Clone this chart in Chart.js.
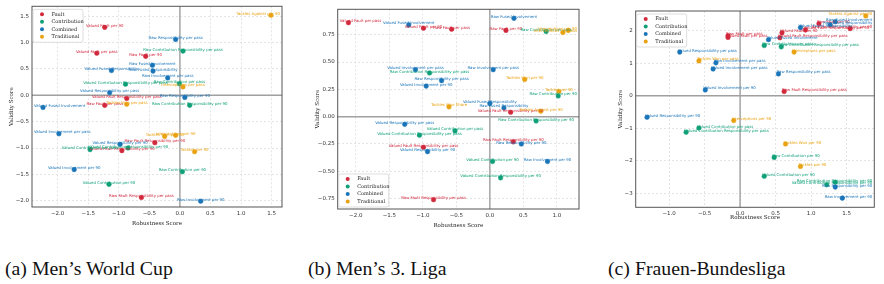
<!DOCTYPE html>
<html>
<head>
<meta charset="utf-8">
<script src="https://cdn.jsdelivr.net/npm/chart.js@4.4.0/dist/chart.umd.min.js"></script>
<style>
  body { margin: 0; background: #fff; width: 884px; height: 284px; position: relative; overflow: hidden; }
  .panel { position: absolute; top: 0; }
  .cap { position: absolute; top: 257px; font-family: "Liberation Serif", serif; font-size: 19.8px; color: #111; white-space: nowrap; }
</style>
</head>
<body>
<div class="panel" style="left:0"><canvas id="wcChart" width="290" height="232"></canvas></div>
<div class="panel" style="left:296px"><canvas id="ligaChart" width="290" height="232"></canvas></div>
<div class="panel" style="left:592px"><canvas id="fbChart" width="292" height="232"></canvas></div>
<div class="cap" style="left:5px">(a) Men’s World Cup</div>
<div class="cap" style="left:308px">(b) Men’s 3. Liga</div>
<div class="cap" style="left:608px">(c) Frauen-Bundesliga</div>

<script>
const groupNames = ['Fault', 'Contribution', 'Combined', 'Traditional'];
const groupColors = ['#d1283c', '#10a078', '#1a75b8', '#e9a212'];

// (a) Men's World Cup
const wcNames = [
    'Valued Fault per 90', 'Valued Fault per pass', 'Raw Fault per 90', 'Valued Fault Responsibility per pass',
    'Raw Fault per pass', 'Raw Fault Responsibility per 90', 'Valued Fault Responsibility per 90', 'Raw Fault Responsibility per pass',
    'Raw Contribution Responsibility per pass', 'Valued Contribution Responsibility per pass', 'Raw Contribution per pass', 'Raw Contribution Responsibility per 90',
    'Valued Contribution per pass', 'Valued Contribution Responsibility per 90', 'Raw Contribution per 90', 'Valued Contribution per 90',
    'Raw Responsibility per pass', 'Raw Fused Involvement', 'Valued Fused Responsibility', 'Raw Fused Responsibility',
    'Raw Involvement per pass', 'Valued Responsibility per pass', 'Raw Responsibility per 90', 'Valued Fused Involvement',
    'Valued Involvement per pass', 'Valued Responsibility per 90', 'Valued Involvement per 90', 'Raw Involvement per 90',
    'Tackles Against per 90', 'Interceptions per pass', 'Tackles Won per pass', 'Tackles Won per 90', 'Interceptions per 90', 'Tackles per 90'
];
const wcGroup = [0,0,0,0,0,0,0,0, 1,1,1,1,1,1,1,1, 2,2,2,2,2,2,2,2,2,2,2,2, 3,3,3,3,3,3];
const wcRobustness = [
    -1.23, -1.36, -0.56, -0.87, -1.23, -0.41, -0.95, -0.63,
    0.05, -0.89, -0.01, 0.16, -1.47, -0.85, 0.04, -1.16,
    -0.07, -0.45, -1.12, -0.44, -0.20, -1.15, 0.08, -2.24, -1.98, -0.98, -1.73, 0.34,
    1.49, 0.05, -0.87, -0.25, -0.07, 0.24
];
const wcValidity = [
    1.29, 0.80, 0.74, -0.06, -0.19, -0.90, -1.05, -1.94,
    0.84, 0.21, 0.22, -0.19, -1.03, -1.00, -1.45, -1.69,
    1.06, 0.57, 0.47, 0.46, 0.33, 0.05, -0.04, -0.23, -0.73, -0.93, -1.41, -2.01,
    1.52, 0.16, -0.17, -0.78, -0.76, -1.07
];

// (b) Men's 3. Liga
const ligaNames = [
    'Valued Fault per pass', 'Valued Fault per 90', 'Raw Fault per pass', 'Raw Fault per 90',
    'Valued Fault Responsibility per 90', 'Raw Fault Responsibility per 90', 'Valued Fault Responsibility per pass', 'Raw Fault Responsibility per pass',
    'Raw Contribution per pass', 'Raw Contribution Responsibility per pass', 'Raw Contribution per 90', 'Raw Contribution Responsibility per 90',
    'Valued Contribution per pass', 'Valued Contribution Responsibility per pass', 'Valued Contribution per 90', 'Valued Contribution Responsibility per 90',
    'Valued Fused Involvement', 'Raw Fused Involvement', 'Valued Involvement per pass', 'Raw Responsibility per pass',
    'Valued Involvement per 90', 'Raw Involvement per pass', 'Valued Fused Responsibility', 'Raw Fused Responsibility',
    'Valued Responsibility per pass', 'Valued Responsibility per 90', 'Raw Responsibility per 90', 'Raw Involvement per 90',
    'Interceptions per 90', 'Interceptions per pass', 'Tackles Won per 90', 'Tackles per 90', 'Tackles Won Share', 'Tackles Against per 90'
];
const ligaGroup = [0,0,0,0,0,0,0,0, 1,1,1,1,1,1,1,1, 2,2,2,2,2,2,2,2,2,2,2,2, 3,3,3,3,3,3];
const ligaRobustness = [
    -2.11, -0.99, -0.57, 0.24, 0.31, 0.35, -0.99, -0.84,
    0.84, -0.90, 1.02, 0.69, -0.52, -1.05, 0.04, 0.16,
    -1.21, 0.36, -1.11, -0.72, -0.95, 0.05, 0.00, 0.21, -1.27, -0.93, 0.47, 0.86,
    1.17, 1.09, 0.52, 1.03, -0.61, 0.76
];
const ligaValidity = [
    0.86, 0.81, 0.80, 0.79, 0.04, -0.23, -0.28, -0.76,
    0.78, 0.40, 0.19, -0.04, -0.13, -0.17, -0.41, -0.56,
    0.84, 0.90, 0.43, 0.33, 0.28, 0.43, 0.12, 0.08, -0.07, -0.32, -0.25, -0.41,
    0.79, 0.77, 0.34, 0.23, 0.09, 0.05
];

// (c) Frauen-Bundesliga
const fbNames = [
    'Valued Fault per pass', 'Raw Fault per pass', 'Raw Fault per 90', 'Valued Fault Responsibility per 90',
    'Raw Fault Responsibility per 90', 'Valued Fault per 90', 'Valued Fault Responsibility per pass', 'Raw Fault Responsibility per pass',
    'Raw Contribution per pass', 'Raw Contribution Responsibility per pass', 'Valued Contribution per pass', 'Valued Contribution Responsibility per pass',
    'Raw Contribution per 90', 'Valued Contribution per 90', 'Raw Contribution Responsibility per 90', 'Valued Contribution Responsibility per 90',
    'Raw Fused Involvement', 'Raw Fused Responsibility', 'Valued Fused Responsibility', 'Valued Fused Involvement',
    'Valued Responsibility per pass', 'Raw Involvement per pass', 'Valued Involvement per pass', 'Raw Responsibility per pass',
    'Valued Involvement per 90', 'Valued Responsibility per 90', 'Raw Responsibility per 90', 'Raw Involvement per 90',
    'Tackles Against per 90', 'Tackles Won per pass', 'Interceptions per pass', 'Interceptions per 90', 'Tackles Won per 90', 'Tackles per 90'
];
const fbGroup = [0,0,0,0,0,0,0,0, 1,1,1,1,1,1,1,1, 2,2,2,2,2,2,2,2,2,2,2,2, 3,3,3,3,3,3];
const fbRobustness = [
    -0.17, -0.17, 1.11, 0.92, 1.55, 0.59, 0.56, 0.62,
    0.34, 0.58, -0.58, -0.76, 0.48, 0.34, 1.34, 1.22,
    1.34, 1.27, 0.85, 0.40, -0.85, -0.34, -0.38, 0.54, -0.49, -1.31, 1.34, 1.44,
    1.77, -0.58, 0.76, -0.09, 0.64, 0.85
];
const fbValidity = [
    1.79, 1.84, 2.21, 2.02, 2.06, 1.93, 1.78, 0.13,
    1.54, 1.50, -0.99, -1.12, -1.89, -2.47, -2.65, -2.73,
    2.27, 2.18, 2.09, 1.72, 1.34, 1.01, 0.82, 0.67, 0.18, -0.66, -2.80, -3.14,
    2.45, 1.07, 1.34, -0.76, -1.48, -2.17
];

// frame box + zero lines under the points
const frameAndZero = {
    id: 'frameAndZero',
    beforeDatasetsDraw(chart) {
        const { ctx, chartArea: ca, scales } = chart;
        const x0 = scales.x.getPixelForValue(0);
        const y0 = scales.y.getPixelForValue(0);
        ctx.save();
        ctx.strokeStyle = '#a0a0a0';
        ctx.lineWidth = 1.4;
        ctx.beginPath();
        ctx.moveTo(x0, ca.top); ctx.lineTo(x0, ca.bottom);
        ctx.moveTo(ca.left, y0); ctx.lineTo(ca.right, y0);
        ctx.stroke();
        ctx.strokeStyle = '#555';
        ctx.lineWidth = 1;
        ctx.strokeRect(ca.left, ca.top, ca.right - ca.left, ca.bottom - ca.top);
        ctx.restore();
    }
};

// small text next to each point, kept inside the plot box
const pointNames = {
    id: 'pointNames',
    afterDatasetsDraw(chart, args, opts) {
        const { ctx, chartArea: ca } = chart;
        ctx.save();
        ctx.font = '3.9px "DejaVu Sans"';
        ctx.textBaseline = 'middle';
        chart.data.datasets.forEach((ds, di) => {
            ctx.fillStyle = ds.borderColor;
            chart.getDatasetMeta(di).data.forEach((pt, i) => {
                const name = ds.data[i].name;
                const w = ctx.measureText(name).width;
                let tx = opts.align === 'center' ? pt.x - w / 2 : pt.x - 2;
                if (tx + w > ca.right - 2) tx = ca.right - 2 - w;
                if (tx < ca.left + 2) tx = ca.left + 2;
                ctx.fillText(name, tx, pt.y - 1.5);
            });
        });
        ctx.restore();
    }
};

// legend box inside the plot area
const boxLegend = {
    id: 'boxLegend',
    afterDraw(chart, args, opts) {
        const { ctx, chartArea: ca } = chart;
        const w = 50, h = 33;
        const x = ca.left + 1;
        const y = opts.corner === 'bottom' ? ca.bottom - h - 2 : ca.top + 3;
        ctx.save();
        ctx.fillStyle = 'rgba(255,255,255,0.92)';
        ctx.strokeStyle = '#d4d4d4';
        ctx.lineWidth = 0.8;
        ctx.beginPath();
        ctx.roundRect(x, y, w, h, 2);
        ctx.fill();
        ctx.stroke();
        ctx.font = '5px "DejaVu Serif"';
        ctx.textBaseline = 'middle';
        groupNames.forEach((g, i) => {
            const cy = y + 5 + i * 7.5;
            ctx.fillStyle = groupColors[i];
            ctx.beginPath();
            ctx.arc(x + 9, cy, 2, 0, Math.PI * 2);
            ctx.fill();
            ctx.fillStyle = '#222';
            ctx.fillText(g, x + 18.5, cy);
        });
        ctx.restore();
    }
};

function fmt(v, dec) {
    return (v < -1e-9 ? '\u2212' : '') + Math.abs(v).toFixed(dec);
}

function buildDatasets(names, group, xs, ys) {
    return groupNames.map((g, gi) => ({
        label: g,
        data: names.map((n, i) => ({ x: xs[i], y: ys[i], name: n, g: group[i] }))
                   .filter(p => p.g === gi),
        backgroundColor: groupColors[gi],
        borderColor: groupColors[gi],
        pointRadius: 2.3,
        borderWidth: 0.5
    }));
}

function makeChart(id, datasets, p) {
    const tickFont = { family: 'DejaVu Sans', size: 5.5 };
    const titleFont = { family: 'DejaVu Serif', size: 5.5 };
    return new Chart(document.getElementById(id), {
        type: 'scatter',
        data: { datasets: datasets },
        options: {
            responsive: false,
            animation: false,
            devicePixelRatio: 1,
            layout: { padding: { left: 0, top: p.top, right: p.right, bottom: 0 } },
            plugins: {
                legend: { display: false },
                tooltip: { enabled: false },
                boxLegend: { corner: p.legend },
                pointNames: { align: p.labelAlign }
            },
            scales: {
                x: {
                    type: 'linear',
                    min: p.xMin, max: p.xMax,
                    grid: { color: '#dedede', lineWidth: 0.8, drawTicks: false },
                    border: { display: false, dash: [2, 2] },
                    ticks: {
                        stepSize: p.xStep, includeBounds: false, autoSkip: false, maxRotation: 0,
                        padding: 3, color: '#333', font: tickFont,
                        callback: v => fmt(v, p.xDec)
                    },
                    title: { display: true, text: 'Robustness Score', color: '#222', font: titleFont, padding: { top: 0, bottom: p.xTitlePad } },
                    afterFit: s => { s.height = p.xHeight; }
                },
                y: {
                    type: 'linear',
                    min: p.yMin, max: p.yMax,
                    grid: { color: '#dedede', lineWidth: 0.8, drawTicks: false },
                    border: { display: false, dash: [2, 2] },
                    ticks: {
                        stepSize: p.yStep, includeBounds: false, autoSkip: false,
                        padding: 3, color: '#333', font: tickFont,
                        callback: v => fmt(v, p.yDec)
                    },
                    title: { display: true, text: 'Validity Score', color: '#222', font: titleFont, padding: { top: p.yTitlePad, bottom: 0 } },
                    afterFit: s => { s.width = p.yWidth; }
                }
            }
        },
        plugins: [frameAndZero, pointNames, boxLegend]
    });
}

document.addEventListener('DOMContentLoaded', function() {
    makeChart('wcChart', buildDatasets(wcNames, wcGroup, wcRobustness, wcValidity), {
        xMin: -2.42, xMax: 1.67, xStep: 0.5, xDec: 1,
        yMin: -2.12, yMax: 1.69, yStep: 0.5, yDec: 1,
        top: 6, right: 8, yWidth: 32, xHeight: 25,
        xTitlePad: 4.7, yTitlePad: 8.7, legend: 'top', labelAlign: 'center'
    });
    makeChart('ligaChart', buildDatasets(ligaNames, ligaGroup, ligaRobustness, ligaValidity), {
        xMin: -2.27, xMax: 1.33, xStep: 0.5, xDec: 1,
        yMin: -0.845, yMax: 0.983, yStep: 0.25, yDec: 2,
        top: 9.3, right: 7, yWidth: 41.7, xHeight: 23,
        xTitlePad: 2.7, yTitlePad: 18.7, legend: 'bottom', labelAlign: 'center'
    });
    makeChart('fbChart', buildDatasets(fbNames, fbGroup, fbRobustness, fbValidity), {
        xMin: -1.47, xMax: 1.89, xStep: 0.5, xDec: 1,
        yMin: -3.42, yMax: 2.6, yStep: 1, yDec: 0,
        top: 11, right: 9.7, yWidth: 43.7, xHeight: 24.7,
        xTitlePad: 10.7, yTitlePad: 25.7, legend: 'top', labelAlign: 'left'
    });
});
</script>
</body>
</html>
